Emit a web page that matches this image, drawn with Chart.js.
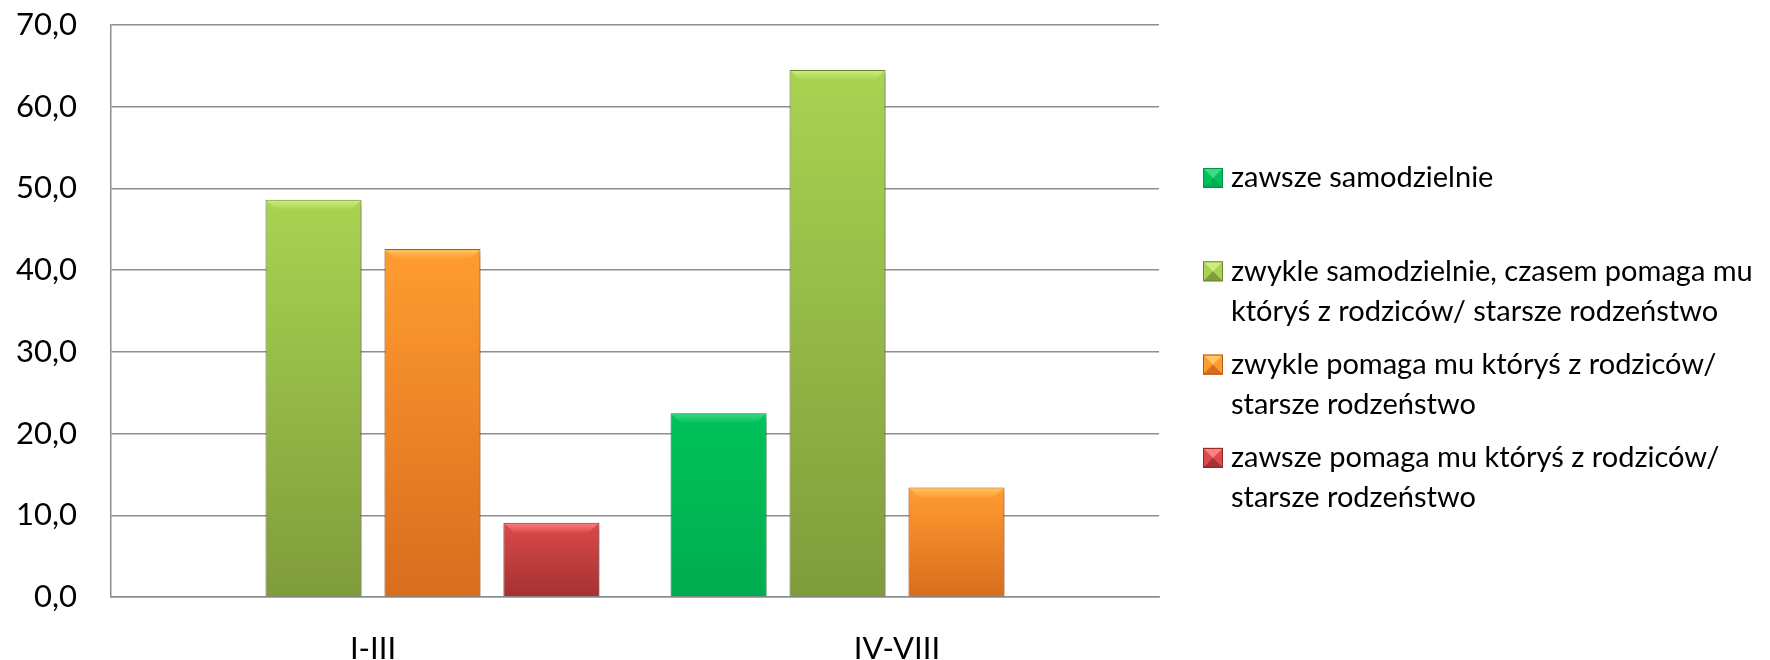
<!DOCTYPE html>
<html>
<head>
<meta charset="utf-8">
<script src="https://cdn.jsdelivr.net/npm/chart.js@4.4.1/dist/chart.umd.min.js"></script>
<style>
    html, body { margin: 0; padding: 0; background: #fff; overflow: hidden; }
    #wrap { position: relative; width: 1770px; height: 668px; }
</style>
</head>
<body>
<div id="wrap"><canvas id="chartPomoc"></canvas></div>
<script>
const klasy = ['I-III', 'IV-VIII'];
const seriaNazwy = [
    'zawsze samodzielnie',
    'zwykle samodzielnie, czasem pomaga mu któryś z rodziców/ starsze rodzeństwo',
    'zwykle pomaga mu któryś z rodziców/ starsze rodzeństwo',
    'zawsze pomaga mu któryś z rodziców/ starsze rodzeństwo'
];
const zawszeSamodzielnie = [0, 22.5];
const zwykleSamodzielnie = [48.6, 64.5];
const zwyklePomaga = [42.6, 13.4];
const zawszePomaga = [9.1, 0];

// kolory: gora, dol, faseta, obramowanie
const kolory = [
    {top: '#00c25a', bottom: '#00ad4e', bevel: '#3fd986', border: '#00914a'},
    {top: '#a9d352', bottom: '#7f9c3b', bevel: '#cdee7c', border: '#6b8732'},
    {top: '#ff9c30', bottom: '#d86d1e', bevel: '#ffc766', border: '#b05a17'},
    {top: '#dc4a4a', bottom: '#a53131', bevel: '#ff8080', border: '#8a2727'}
];

const FONT = 'Lato';
const gridKolor = '#8e8e8e';

function formatLiczba(v) {
    return v.toFixed(1).replace('.', ',');
}

function gradient(i) {
    return function (c) {
        const k = kolory[i];
        const chart = c.chart;
        if (!chart.chartArea || c.raw === undefined || !chart.scales.y) {
            return k.top;
        }
        const y = chart.scales.y;
        const top = y.getPixelForValue(c.raw);
        const bottom = y.getPixelForValue(0);
        if (bottom - top < 1) return k.top;
        const g = chart.ctx.createLinearGradient(0, top, 0, bottom);
        g.addColorStop(0, k.top);
        g.addColorStop(1, k.bottom);
        return g;
    };
}

const cienPlugin = {
    id: 'cien',
    beforeDatasetsDraw(chart) {
        const ctx = chart.ctx;
        ctx.save();
        ctx.shadowColor = 'rgba(0,0,0,0.35)';
        ctx.shadowBlur = 6;
        ctx.shadowOffsetX = 2;
        ctx.shadowOffsetY = 3;
    },
    afterDatasetsDraw(chart) {
        const ctx = chart.ctx;
        ctx.restore();
        // faseta na gorze slupkow
        chart.data.datasets.forEach((ds, i) => {
            const meta = chart.getDatasetMeta(i);
            meta.data.forEach(bar => {
                const h = bar.base - bar.y;
                if (h < 4) return;
                const w = bar.width;
                const x0 = bar.x - w / 2;
                const x1 = bar.x + w / 2;
                const d = Math.min(10, h / 2);
                ctx.save();
                const g = ctx.createLinearGradient(0, bar.y, 0, bar.y + d);
                g.addColorStop(0, kolory[i].bevel);
                g.addColorStop(1, kolory[i].top);
                ctx.fillStyle = g;
                ctx.beginPath();
                ctx.moveTo(x0 + 1, bar.y + 1);
                ctx.lineTo(x1 - 1, bar.y + 1);
                ctx.lineTo(x1 - 1 - d, bar.y + d);
                ctx.lineTo(x0 + 1 + d, bar.y + d);
                ctx.closePath();
                ctx.fill();
                ctx.restore();
            });
        });
    }
};

function zawijaj(ctx, tekst, maxW) {
    const slowa = tekst.split(' ');
    const linie = [];
    let akt = '';
    slowa.forEach(s => {
        const proba = akt ? akt + ' ' + s : s;
        if (ctx.measureText(proba).width > maxW && akt) {
            linie.push(akt);
            akt = s;
        } else {
            akt = proba;
        }
    });
    if (akt) linie.push(akt);
    return linie;
}

function rysujZnacznik(ctx, x, y, s, k) {
    const cx = x + s / 2, cy = y + s / 2;
    ctx.fillStyle = k.top;
    ctx.fillRect(x, y, s, s);
    ctx.fillStyle = k.bevel;
    ctx.beginPath();
    ctx.moveTo(x, y); ctx.lineTo(x + s, y); ctx.lineTo(cx, cy); ctx.closePath();
    ctx.fill();
    ctx.fillStyle = k.bottom;
    ctx.beginPath();
    ctx.moveTo(x, y + s); ctx.lineTo(x + s, y + s); ctx.lineTo(cx, cy); ctx.closePath();
    ctx.fill();
    ctx.strokeStyle = k.border;
    ctx.lineWidth = 1;
    ctx.strokeRect(x + 0.5, y + 0.5, s - 1, s - 1);
}

const legendaPlugin = {
    id: 'legendaBok',
    afterDraw(chart) {
        const ctx = chart.ctx;
        const textX = 1231;
        ctx.save();
        ctx.font = '29px ' + FONT;
        ctx.textBaseline = 'middle';
        ctx.textAlign = 'left';
        chart.data.datasets.forEach((ds, i) => {
            const y0 = 178 + i * 93.3;
            rysujZnacznik(ctx, 1203, y0 - 10, 20, kolory[i]);
            ctx.fillStyle = '#000';
            const linie = zawijaj(ctx, ds.label, chart.width - textX - 2);
            linie.forEach((l, k) => ctx.fillText(l, textX, y0 + k * 40));
        });
        ctx.restore();
    }
};

function drawPomoc() {
    const ctx = document.getElementById('chartPomoc').getContext('2d');
    const seria = [zawszeSamodzielnie, zwykleSamodzielnie, zwyklePomaga, zawszePomaga];
    const chartPomoc = new Chart(ctx, {
        type: 'bar',
        data: {
            labels: klasy,
            datasets: seria.map((dane, i) => ({
                label: seriaNazwy[i],
                data: dane,
                backgroundColor: gradient(i),
                borderColor: kolory[i].border,
                borderWidth: 1,
                categoryPercentage: 0.908,
                barPercentage: 0.807
            }))
        },
        options: {
            animation: false,
            responsive: true,
            maintainAspectRatio: false,
            layout: {
                padding: {top: 25, right: 611, left: 0, bottom: 0}
            },
            scales: {
                x: {
                    grid: {display: false, drawTicks: false},
                    border: {display: true, color: gridKolor, width: 1.5},
                    ticks: {
                        color: '#000',
                        padding: 33,
                        font: {family: FONT, size: 31}
                    },
                    afterFit: function (scale) {
                        scale.height = 71;
                    }
                },
                y: {
                    min: 0,
                    max: 70,
                    grid: {color: gridKolor, lineWidth: 1.5, drawTicks: false},
                    border: {display: true, color: gridKolor, width: 1.5},
                    ticks: {
                        stepSize: 10,
                        color: '#000',
                        padding: 34,
                        font: {family: FONT, size: 31},
                        callback: function (value) {
                            return formatLiczba(value);
                        }
                    },
                    afterFit: function (scale) {
                        scale.width = 111;
                        scale.paddingTop = 0;
                        scale.paddingBottom = 0;
                    }
                }
            },
            plugins: {
                legend: {display: false},
                tooltip: {enabled: false}
            }
        },
        plugins: [cienPlugin, legendaPlugin]
    });
}

drawPomoc();
</script>
</body>
</html>
